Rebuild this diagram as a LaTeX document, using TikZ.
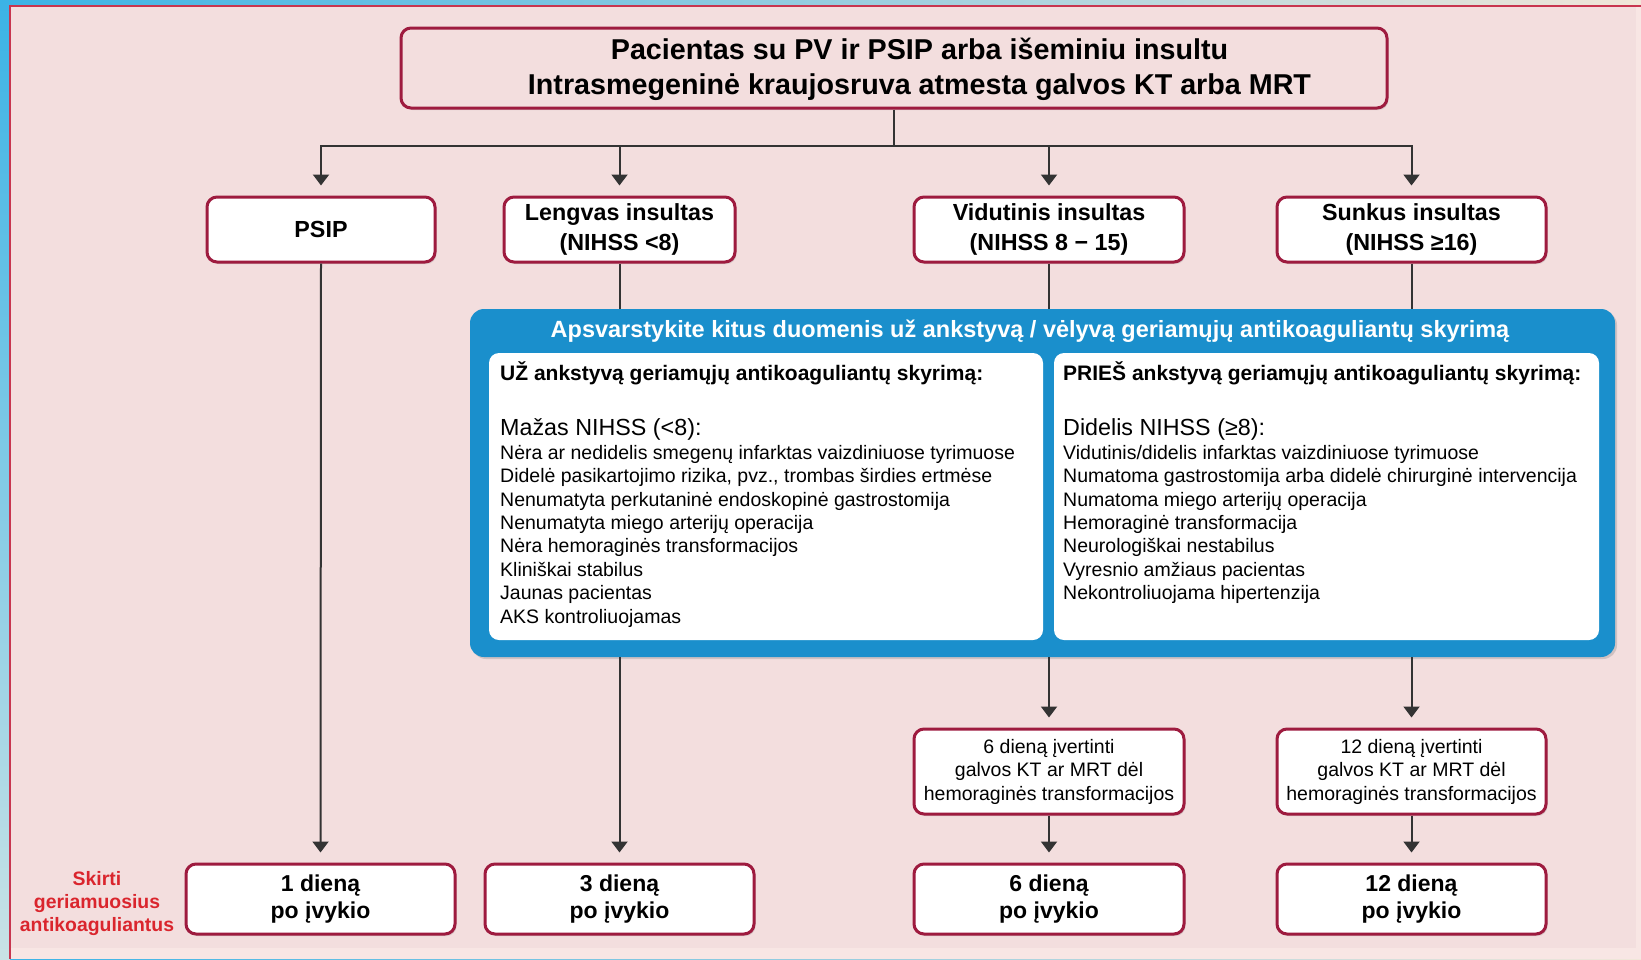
\documentclass[tikz,border=0pt]{standalone}
\usepackage{fontspec}
\setmainfont{Liberation Sans}
\usetikzlibrary{arrows.meta,shadows}
\usepackage{xcolor}
\definecolor{PanelPink}{HTML}{F3DEDE}
\definecolor{PanelEdge}{HTML}{F8E6E4}
\definecolor{FrameBlue}{HTML}{3BB3E6}
\definecolor{FrameMist}{HTML}{C9E2E6}
\definecolor{FramePale}{HTML}{F1E7D9}
\definecolor{PanelLine}{HTML}{C8354F}
\definecolor{BoxRed}{HTML}{9E1B3F}
\definecolor{InfoBlue}{HTML}{1A8FCC}
\definecolor{LineGray}{HTML}{333333}
\definecolor{LabelRed}{HTML}{DA252D}

\begin{document}
\begin{tikzpicture}[
	x=1pt, y=-1pt, % one unit per pixel of the layout, y running down
	% Style for the red-framed stage boxes
	stage box/.style={
		rectangle,
		rounded corners=10pt,
		draw=BoxRed,
		fill=white,
		line width=3pt,
		align=center,
		inner sep=0pt,
		drop shadow={opacity=0.25, shadow xshift=1.5pt, shadow yshift=-2pt}
	},
	% Fonts used in the stage boxes
	bold text/.style={font=\bfseries\fontsize{23.3}{29.3}\selectfont},
	plain text/.style={font=\fontsize{19.5}{23.5}\selectfont},
	% Style for the blue panel and its white halves
	info box/.style={
		rectangle,
		rounded corners=14pt,
		fill=InfoBlue,
		drop shadow={opacity=0.3, shadow xshift=2pt, shadow yshift=-2pt}
	},
	list box/.style={
		rectangle,
		rounded corners=10pt,
		fill=white
	},
	% Text inside the white halves
	list head/.style={anchor=west, inner sep=0pt, font=\bfseries\fontsize{21}{25}\selectfont},
	list sub/.style={anchor=west, inner sep=0pt, font=\fontsize{23.3}{28}\selectfont},
	list items/.style={anchor=north west, inner sep=0pt, align=left, font=\fontsize{19.5}{23.4}\selectfont},
	% Style for the connectors
	line/.style={
		draw=LineGray,
		line width=2pt
	},
	arrow/.style={
		line,
		-{Triangle[width=16pt,length=11pt]},
		shorten >=10pt
	}
	]
	\useasboundingbox (0,0) rectangle (1641,959);
	
	% Backdrop: blue frame and pink panel
	\fill[left color=FrameBlue, right color=FramePale] (0,0) rectangle (1641,959);
	\fill[top color=FrameBlue, bottom color=FrameMist] (0,0) rectangle (10,959);
	\fill[PanelEdge] (10,6) rectangle (1641,959);
	\fill[PanelPink] (10,6) rectangle (1636,948);
	\draw[PanelLine, line width=1.5pt] (10,959) -- (10,6) -- (1641,6);
	
	% 1. Top box
	\node[stage box, fill=PanelPink, minimum width=986pt, minimum height=80pt] (patient) at (894,68) {};
	\node[align=center, inner sep=0pt, font=\bfseries\fontsize{28.7}{35.6}\selectfont] (patienttext) at (919.5,69.5)
	{Pacientas su PV ir PSIP arba išeminiu insultu\\Intrasmegeninė kraujosruva atmesta galvos KT arba MRT};
	
	% 2. Stroke severity
	\node[stage box, bold text, minimum width=228pt, minimum height=65pt] (tia) at (321,229.5) {PSIP};
	\node[stage box, bold text, minimum width=231pt, minimum height=65pt] (mild) at (619.5,229.5) {Lengvas insultas\\(NIHSS <8)};
	\node[stage box, bold text, minimum width=270pt, minimum height=65pt] (moderate) at (1049,229.5) {Vidutinis insultas\\(NIHSS 8 − 15)};
	\node[stage box, bold text, minimum width=269pt, minimum height=65pt] (severe) at (1411.5,229.5) {Sunkus insultas\\(NIHSS ≥16)};
	
	% 3. Blue panel with the two lists
	\node[info box, minimum width=1145pt, minimum height=348pt] (factors) at (1042.5,483) {};
	\node[text=white, inner sep=0pt, font=\bfseries\fontsize{23.5}{28}\selectfont] (factorstitle) at (1030,331)
	{Apsvarstykite kitus duomenis už ankstyvą / vėlyvą geriamųjų antikoaguliantų skyrimą};
	\node[list box, minimum width=554pt, minimum height=287pt] (forbox) at (766,496.5) {};
	\node[list box, minimum width=545pt, minimum height=287pt] (againstbox) at (1326.5,496.5) {};
	
	\node[list head] (forhead) at (500,373) {UŽ ankstyvą geriamųjų antikoaguliantų skyrimą:};
	\node[list sub] (forsub) at (500,429) {Mažas NIHSS (<8):};
	\node[list items] (foritems) at (500,445) {Nėra ar nedidelis smegenų infarktas vaizdiniuose tyrimuose\\
		Didelė pasikartojimo rizika, pvz., trombas širdies ertmėse\\
		Nenumatyta perkutaninė endoskopinė gastrostomija\\
		Nenumatyta miego arterijų operacija\\
		Nėra hemoraginės transformacijos\\
		Kliniškai stabilus\\
		Jaunas pacientas\\
		AKS kontroliuojamas};
	
	\node[list head] (againsthead) at (1063,373) {PRIEŠ ankstyvą geriamųjų antikoaguliantų skyrimą:};
	\node[list sub] (againstsub) at (1063,429) {Didelis NIHSS (≥8):};
	\node[list items] (againstitems) at (1063,445) {Vidutinis/didelis infarktas vaizdiniuose tyrimuose\\
		Numatoma gastrostomija arba didelė chirurginė intervencija\\
		Numatoma miego arterijų operacija\\
		Hemoraginė transformacija\\
		Neurologiškai nestabilus\\
		Vyresnio amžiaus pacientas\\
		Nekontroliuojama hipertenzija};
	
	% 4. Imaging checks
	\node[stage box, plain text, minimum width=270pt, minimum height=85pt] (check6) at (1049,771.5)
	{6 dieną įvertinti\\galvos KT ar MRT dėl\\hemoraginės transformacijos};
	\node[stage box, plain text, minimum width=269pt, minimum height=85pt] (check12) at (1411.5,771.5)
	{12 dieną įvertinti\\galvos KT ar MRT dėl\\hemoraginės transformacijos};
	
	% 5. Start days
	\node[stage box, font=\bfseries\fontsize{23}{27.4}\selectfont, minimum width=269pt, minimum height=70pt] (day1) at (320.5,899) {1 dieną\\po įvykio};
	\node[stage box, font=\bfseries\fontsize{23}{27.4}\selectfont, minimum width=269pt, minimum height=70pt] (day3) at (619.5,899) {3 dieną\\po įvykio};
	\node[stage box, font=\bfseries\fontsize{23}{27.4}\selectfont, minimum width=270pt, minimum height=70pt] (day6) at (1049,899) {6 dieną\\po įvykio};
	\node[stage box, font=\bfseries\fontsize{23}{27.4}\selectfont, minimum width=269pt, minimum height=70pt] (day12) at (1411.5,899) {12 dieną\\po įvykio};
	
	\node[text=LabelRed, align=center, inner sep=0pt, font=\bfseries\fontsize{19.4}{23}\selectfont] (startnote) at (97,904)
	{Skirti\\geriamuosius\\antikoaguliantus};
	
	% 6. Connectors
	\coordinate (split) at ([yshift=-36pt]patient.south);
	\draw[line] (patient.south) -- (split);
	\draw[arrow] (split) -| (tia.north);
	\draw[arrow] (split) -| (mild.north);
	\draw[arrow] (split) -| (moderate.north);
	\draw[arrow] (split) -| (severe.north);
	
	\draw[arrow] (tia.south) -- (day1.north);
	\draw[line] (mild.south) -- (mild.south |- factors.north);
	\draw[line] (moderate.south) -- (moderate.south |- factors.north);
	\draw[line] (severe.south) -- (severe.south |- factors.north);
	
	\draw[arrow] (mild.south |- factors.south) -- (day3.north);
	\draw[arrow] (moderate.south |- factors.south) -- (check6.north);
	\draw[arrow] (severe.south |- factors.south) -- (check12.north);
	\draw[arrow] (check6.south) -- (day6.north);
	\draw[arrow] (check12.south) -- (day12.north);
	
\end{tikzpicture}
\end{document}
